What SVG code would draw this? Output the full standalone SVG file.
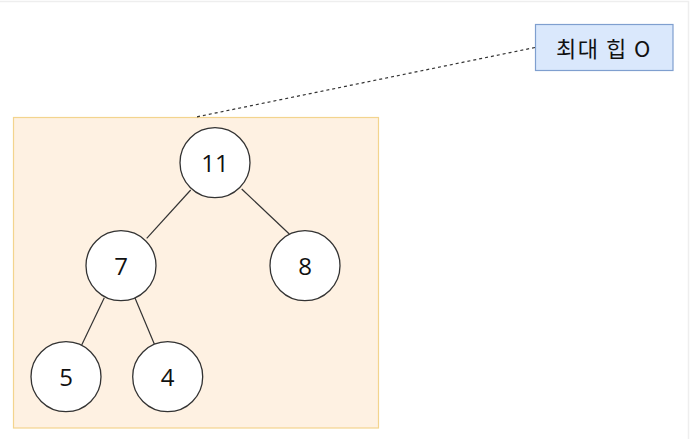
<svg xmlns="http://www.w3.org/2000/svg" width="691" height="439" viewBox="0 0 691 439">
<style>
.node circle{fill:#ffffff;stroke:#333333;stroke-width:1.3}
.node text{font-family:"Open Sans","Noto Sans",sans-serif;font-size:24px;fill:#111111;text-anchor:middle;dominant-baseline:central}
.edge{stroke:#333333;stroke-width:1.2;fill:none}
.lbl{font-family:"Noto Sans CJK KR","Open Sans",sans-serif;font-size:22px;letter-spacing:1.5px;fill:#111111;text-anchor:middle;dominant-baseline:central}
</style>
<rect x="0" y="0" width="691" height="439" fill="#ffffff"/>
<path d="M0 1.5H688.5V439" fill="none" stroke="#eeeeee" stroke-width="1.5"/>
<g id="container">
<rect x="13.5" y="117.5" width="365" height="310.5" fill="#fef1e2" stroke="#f3d48e" stroke-width="1.2"/>
</g>
<g id="label">
<rect x="535.5" y="24.5" width="137.5" height="46" fill="#dae8fc" stroke="#7f9fcf" stroke-width="1.2"/>
<text class="lbl" x="604" y="47">최대 힙 O</text>
</g>
<g id="connectors">
<line x1="535" y1="47.5" x2="196" y2="117" stroke="#333333" stroke-width="1.2" stroke-dasharray="3 3"/>
<line class="edge" x1="190.7" y1="190" x2="146.7" y2="238.3"/>
<line class="edge" x1="241.7" y1="189" x2="289.3" y2="234"/>
<line class="edge" x1="104.3" y1="297.7" x2="81.7" y2="345"/>
<line class="edge" x1="135" y1="298" x2="154.3" y2="344"/>
</g>
<g id="n11" class="node"><circle cx="215" cy="162.7" r="35"/><text x="215" y="162.7">11</text></g>
<g id="n7" class="node"><circle cx="121" cy="265.7" r="35"/><text x="121" y="265.7">7</text></g>
<g id="n8" class="node"><circle cx="305" cy="265.7" r="35"/><text x="305" y="265.7">8</text></g>
<g id="n5" class="node"><circle cx="66" cy="376.7" r="35"/><text x="66" y="376.7">5</text></g>
<g id="n4" class="node"><circle cx="167.7" cy="376.7" r="35"/><text x="167.7" y="376.7">4</text></g>
</svg>
